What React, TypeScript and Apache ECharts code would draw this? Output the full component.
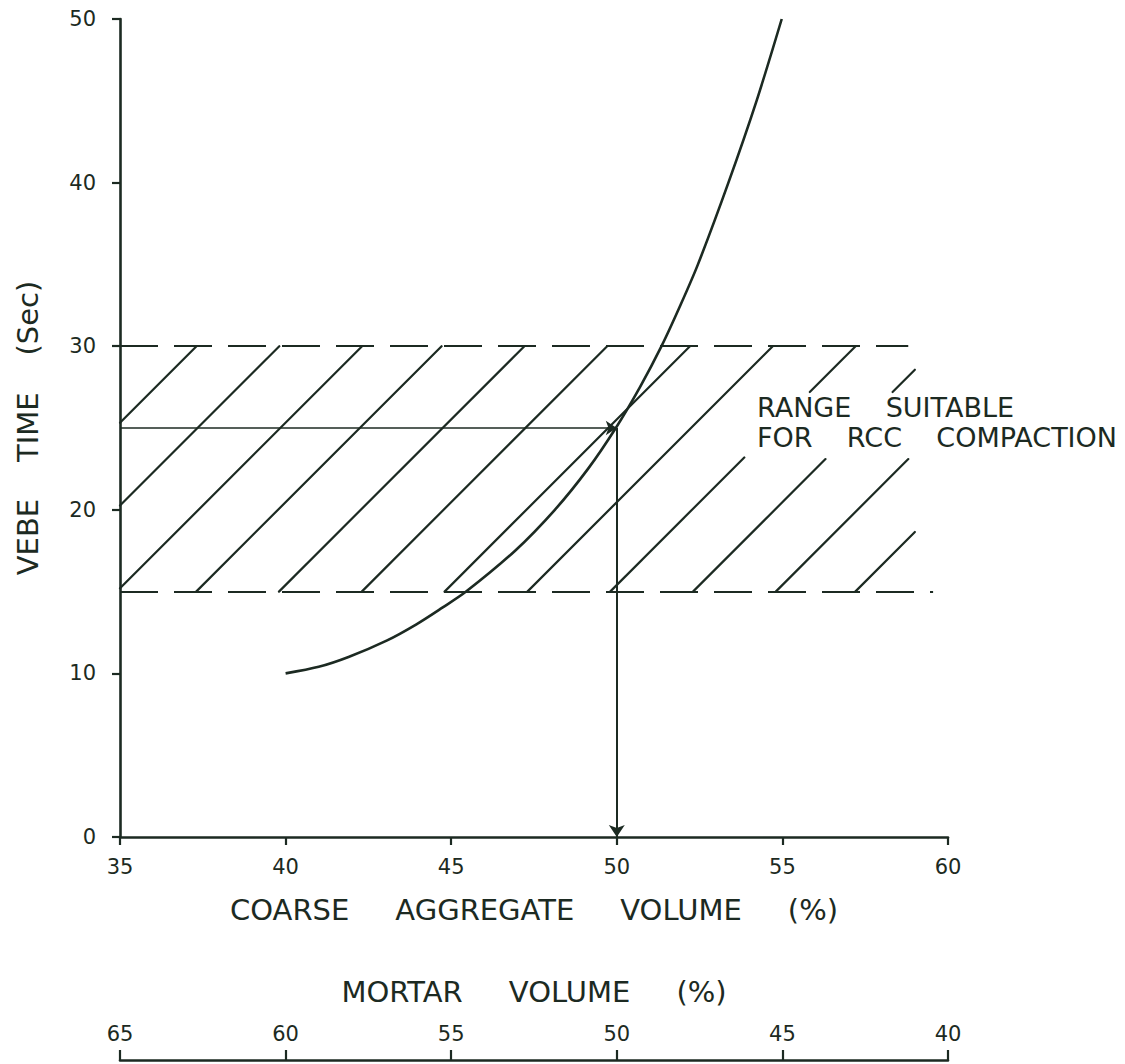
import { useEffect, useRef } from "react";
import * as echarts from "echarts";

// Vebe time (s) of the mix against its coarse aggregate volume (%)
const coarseVolume = [40, 41, 41.9, 43.05, 43.95, 44.72, 45.45, 46.93, 48.13, 49.13, 49.97, 50.7, 51.35, 51.92, 52.45, 53.37, 54.22, 54.98];
const vebeTime = [10, 10.4, 11, 12, 13, 14, 15, 17.5, 20, 22.5, 25, 27.5, 30, 32.5, 35, 40, 45, 50];

// Vebe times suitable for RCC compaction (s)
const suitableRange = [15, 30];
// Right-hand ends of the lower and upper range lines (coarse aggregate %)
const rangeLineEnds = [59.55, 58.8];
// Coarse aggregate volume at which each hatch stroke meets the lower bound
const hatchStarts = [29.9, 32.4, 34.9, 37.3, 39.8, 42.3, 44.8, 47.3, 49.8, 52.3, 54.8, 57.2];

// Selected mix
const designCoarse = 50;
const designVebe = 25;

// Axis scales
const coarseAxis = { min: 35, max: 60, step: 5 };
const vebeAxis = { min: 0, max: 50, step: 10 };
const mortarAxis = { min: 40, max: 65, step: 5 };

const INK = "#1c2a22";
const FONT = "DejaVu Sans";

// hatch strokes stop at the right edge and leave room for the range label
const HATCH_LEFT = 35;
const HATCH_RIGHT = 59.0;
const LABEL_GAP = { x0: 53.85, x1: 62, y0: 23.1, y1: 27.2 };

const words = (list: string[], n: number) => list.join("\u00a0".repeat(n));

function hatchItem(_params: any, api: any) {
  const x0 = api.value(0) as number;
  const [lo, hi] = suitableRange;
  const a = api.coord([x0, lo]);
  const b = api.coord([x0, hi]);
  const h = a[1] - b[1];
  if (h <= 0) return null;
  const tx = (px: number) => (px - a[0]) / h;
  const ty = (py: number) => (a[1] - py) / h;
  const t0 = Math.max(0, tx(api.coord([HATCH_LEFT, lo])[0]));
  const t1 = Math.min(1, tx(api.coord([HATCH_RIGHT, lo])[0]));
  if (t1 <= t0) return null;
  const gTL = api.coord([LABEL_GAP.x0, LABEL_GAP.y1]);
  const gBR = api.coord([LABEL_GAP.x1, LABEL_GAP.y0]);
  const gs = Math.max(tx(gTL[0]), ty(gBR[1]));
  const ge = Math.min(tx(gBR[0]), ty(gTL[1]));
  const spans: [number, number][] = [];
  if (ge > gs && ge > t0 && gs < t1) {
    if (gs > t0) spans.push([t0, gs]);
    if (ge < t1) spans.push([ge, t1]);
  } else {
    spans.push([t0, t1]);
  }
  return {
    type: "group",
    children: spans.map(([s, e]) => ({
      type: "line",
      shape: { x1: a[0] + h * s, y1: a[1] - h * s, x2: a[0] + h * e, y2: a[1] - h * e },
      style: { stroke: INK, lineWidth: 2.2, lineCap: "round" },
    })),
  };
}

function buildOption() {
  const dashed = { color: INK, width: 2.2, type: [38, 16] as number[] };
  const tickFont = { color: INK, fontFamily: FONT, fontSize: 21 };
  const nameFont = { color: INK, fontFamily: FONT, fontSize: 29 };
  return {
    animation: false,
    backgroundColor: "#ffffff",
    textStyle: { fontFamily: FONT, color: INK },
    grid: { left: 120, right: 177, top: 19, bottom: 227, containLabel: false },
    xAxis: [
      {
        type: "value",
        min: coarseAxis.min,
        max: coarseAxis.max,
        interval: coarseAxis.step,
        position: "bottom",
        axisLine: { show: true, onZero: false, lineStyle: { color: INK, width: 2.6 } },
        axisTick: { show: true, length: 8, lineStyle: { color: INK, width: 2.2 } },
        axisLabel: { ...tickFont, margin: 19 },
        splitLine: { show: false },
        name: words(["COARSE", "AGGREGATE", "VOLUME", "(%)"], 5),
        nameLocation: "middle",
        nameGap: 58,
        nameTextStyle: nameFont,
      },
      {
        type: "value",
        min: mortarAxis.min,
        max: mortarAxis.max,
        interval: mortarAxis.step,
        inverse: true,
        position: "bottom",
        offset: 223,
        axisLine: { show: true, onZero: false, lineStyle: { color: INK, width: 2.6 } },
        axisTick: { show: true, inside: true, length: 10, lineStyle: { color: INK, width: 2.2 } },
        axisLabel: { ...tickFont, inside: true, margin: 16 },
        splitLine: { show: false },
        name: words(["MORTAR", "VOLUME", "(%)"], 5),
        nameLocation: "middle",
        nameGap: -83,
        nameTextStyle: nameFont,
      },
    ],
    yAxis: {
      type: "value",
      min: vebeAxis.min,
      max: vebeAxis.max,
      interval: vebeAxis.step,
      axisLine: { show: true, onZero: false, lineStyle: { color: INK, width: 2.6 } },
      axisTick: { show: true, length: 8, lineStyle: { color: INK, width: 2.2 } },
      axisLabel: { ...tickFont, margin: 24 },
      splitLine: { show: false },
      name: words(["VEBE", "TIME", "(Sec)"], 4),
      nameLocation: "middle",
      nameGap: 78,
      nameTextStyle: nameFont,
    },
    graphic: [
      {
        type: "text",
        left: 757,
        top: 392,
        silent: true,
        style: {
          text: words(["RANGE", "SUITABLE"], 4) + "\n" + words(["FOR", "RCC", "COMPACTION"], 4),
          font: `27px "${FONT}"`,
          fill: INK,
          lineHeight: 30,
        },
      },
    ],
    series: [
      {
        type: "custom",
        name: "hatch",
        xAxisIndex: 0,
        yAxisIndex: 0,
        silent: true,
        clip: false,
        data: hatchStarts.map((x) => [x, suitableRange[0]]),
        renderItem: hatchItem,
        z: 2,
      },
      {
        type: "line",
        name: "Vebe time",
        xAxisIndex: 0,
        yAxisIndex: 0,
        data: coarseVolume.map((x, i) => [x, vebeTime[i]]),
        smooth: 0.3,
        showSymbol: false,
        silent: true,
        lineStyle: { color: INK, width: 2.6 },
        z: 3,
        markLine: {
          silent: true,
          symbol: ["none", "none"],
          label: { show: false },
          emphasis: { disabled: true },
          data: [
            [
              { coord: [coarseAxis.min, suitableRange[0]], lineStyle: dashed },
              { coord: [rangeLineEnds[0], suitableRange[0]], lineStyle: dashed },
            ],
            [
              { coord: [coarseAxis.min, suitableRange[1]], lineStyle: dashed },
              { coord: [rangeLineEnds[1], suitableRange[1]], lineStyle: dashed },
            ],
            [
              { coord: [coarseAxis.min, designVebe], lineStyle: { color: INK, width: 1.6, type: "solid" } },
              {
                coord: [designCoarse, designVebe],
                symbol: "arrow",
                symbolSize: 11,
                lineStyle: { color: INK, width: 1.6, type: "solid" },
              },
            ],
            [
              { coord: [designCoarse, designVebe], lineStyle: { color: INK, width: 2, type: "solid" } },
              {
                coord: [designCoarse, vebeAxis.min],
                symbol: "arrow",
                symbolSize: 12,
                lineStyle: { color: INK, width: 2, type: "solid" },
              },
            ],
          ],
        },
      },
    ],
  };
}

export default function App() {
  const ref = useRef<HTMLDivElement>(null);
  useEffect(() => {
    if (!ref.current) return;
    const chart = echarts.init(ref.current, null, { renderer: "svg" });
    chart.setOption(buildOption() as any);
    return () => chart.dispose();
  }, []);
  return (
    <div
      ref={ref}
      style={{ position: "fixed", left: 0, top: 0, width: 1125, height: 1064, background: "#ffffff" }}
    />
  );
}
